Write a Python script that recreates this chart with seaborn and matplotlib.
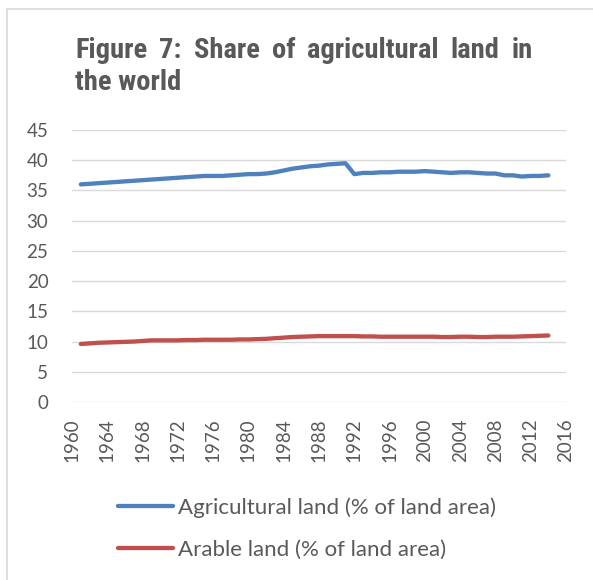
import matplotlib
matplotlib.use("Agg")
import matplotlib.pyplot as plt
from matplotlib.lines import Line2D
from matplotlib import font_manager
import seaborn as sns
import pandas as pd

years = list(range(1961, 2015))

agricultural = [
    36.0, 36.1, 36.2, 36.3, 36.4, 36.5, 36.6, 36.7, 36.8, 36.9,
    37.0, 37.1, 37.2, 37.3, 37.4, 37.4, 37.4, 37.5, 37.6, 37.7,
    37.7, 37.8, 38.0, 38.3, 38.6, 38.8, 39.0, 39.1, 39.3, 39.4,
    39.5, 37.7, 37.9, 37.9, 38.0, 38.0, 38.1, 38.1, 38.1, 38.2,
    38.1, 38.0, 37.9, 38.0, 38.0, 37.9, 37.8, 37.8, 37.5, 37.5,
    37.3, 37.4, 37.4, 37.5,
]

arable = [
    9.6, 9.7, 9.8, 9.85, 9.9, 9.95, 10.0, 10.1, 10.2, 10.2,
    10.2, 10.2, 10.25, 10.25, 10.3, 10.3, 10.3, 10.3, 10.35, 10.35,
    10.4, 10.45, 10.55, 10.65, 10.75, 10.8, 10.85, 10.9, 10.9, 10.9,
    10.9, 10.9, 10.85, 10.85, 10.8, 10.8, 10.8, 10.8, 10.8, 10.8,
    10.8, 10.75, 10.75, 10.8, 10.8, 10.75, 10.75, 10.8, 10.8, 10.8,
    10.85, 10.9, 10.95, 11.0,
]

series_names = ["Agricultural land (% of land area)", "Arable land (% of land area)"]
series_colors = ["#4F81BD", "#C0504D"]
x_ticks = list(range(1960, 2017, 4))
y_ticks = list(range(0, 46, 5))

title_line1 = ["Figure", "7:", "Share", "of", "agricultural", "land", "in"]
title_line2 = "the world"

df = pd.DataFrame({
    "year": years * 2,
    "value": agricultural + arable,
    "series": [series_names[0]] * len(years) + [series_names[1]] * len(years),
})

sns.set_theme(style="white")
plt.rcParams["font.family"] = ["Lato", "DejaVu Sans"]

text_gray = "#595959"
grid_gray = "#D9D9D9"
line_w = 3.1

fig = plt.figure(figsize=(5.93, 5.80), dpi=100)
ax = fig.add_axes([72 / 593, 1 - 402 / 580, (566 - 72) / 593, (402 - 130) / 580])

sns.lineplot(
    data=df, x="year", y="value", hue="series",
    palette=dict(zip(series_names, series_colors)),
    linewidth=line_w, ax=ax, legend=False,
)
for line in ax.lines:
    line.set_solid_capstyle("round")
    line.set_solid_joinstyle("round")

ax.set_xlim(1960, 2016)
ax.set_ylim(0, 45)
ax.set_xticks(x_ticks)
ax.set_yticks(y_ticks)
ax.set_xticklabels([str(t) for t in x_ticks], rotation=90)
ax.set_xlabel("")
ax.set_ylabel("")
ax.tick_params(axis="both", length=0, labelsize=13.5, colors=text_gray)
ax.tick_params(axis="y", pad=17)
ax.tick_params(axis="x", pad=12)
ax.grid(axis="y", color=grid_gray, linewidth=1.0)
ax.grid(axis="x", visible=False)
ax.set_axisbelow(True)
for s in ax.spines.values():
    s.set_visible(False)

# Title: a narrow bold face if one is present, otherwise a smaller regular-width bold
installed = {f.name for f in font_manager.fontManager.ttflist}
narrow = [n for n in ("Liberation Sans Narrow", "Roboto Condensed", "Open Sans Condensed")
          if n in installed]
if narrow:
    title_font = dict(family=[narrow[0], "DejaVu Sans"], weight="bold", size=20.5, color=text_gray)
else:
    title_font = dict(family=["Liberation Sans", "DejaVu Sans"], weight="bold", size=16.5,
                      color=text_gray)

renderer = fig.canvas.get_renderer()
x0, x1 = 75 / 593, 533 / 593
base1, base2 = 1 - 57.5 / 580, 1 - 90.5 / 580
widths = []
for w in title_line1:
    t = fig.text(0, 0, w, **title_font)
    widths.append(t.get_window_extent(renderer).width / fig.bbox.width)
    t.remove()
gap = (x1 - x0 - sum(widths)) / (len(title_line1) - 1)
xp = x0
for w, wd in zip(title_line1, widths):
    fig.text(xp, base1, w, ha="left", va="baseline", **title_font)
    xp += wd + gap
fig.text(x0, base2, title_line2, ha="left", va="baseline", **title_font)

# Legend below the plot
handles = [Line2D([0], [0], color=c, linewidth=line_w, solid_capstyle="round") for c in series_colors]
fig.legend(
    handles, series_names,
    loc="upper left", bbox_to_anchor=(111 / 593, 1 - 491 / 580),
    frameon=False, handlelength=2.5, handletextpad=0.22,
    labelspacing=0.98, fontsize=16, labelcolor=text_gray,
    borderaxespad=0, borderpad=0.3,
)

# Outer frame (left and top edges)
fig.add_artist(Line2D([6.5 / 593, 6.5 / 593], [0, 1 - 9 / 580], transform=fig.transFigure,
                      color=grid_gray, linewidth=1.2))
fig.add_artist(Line2D([6.5 / 593, 1], [1 - 9 / 580, 1 - 9 / 580], transform=fig.transFigure,
                      color=grid_gray, linewidth=1.2))

fig.savefig("out.png", dpi=100, facecolor="white")
